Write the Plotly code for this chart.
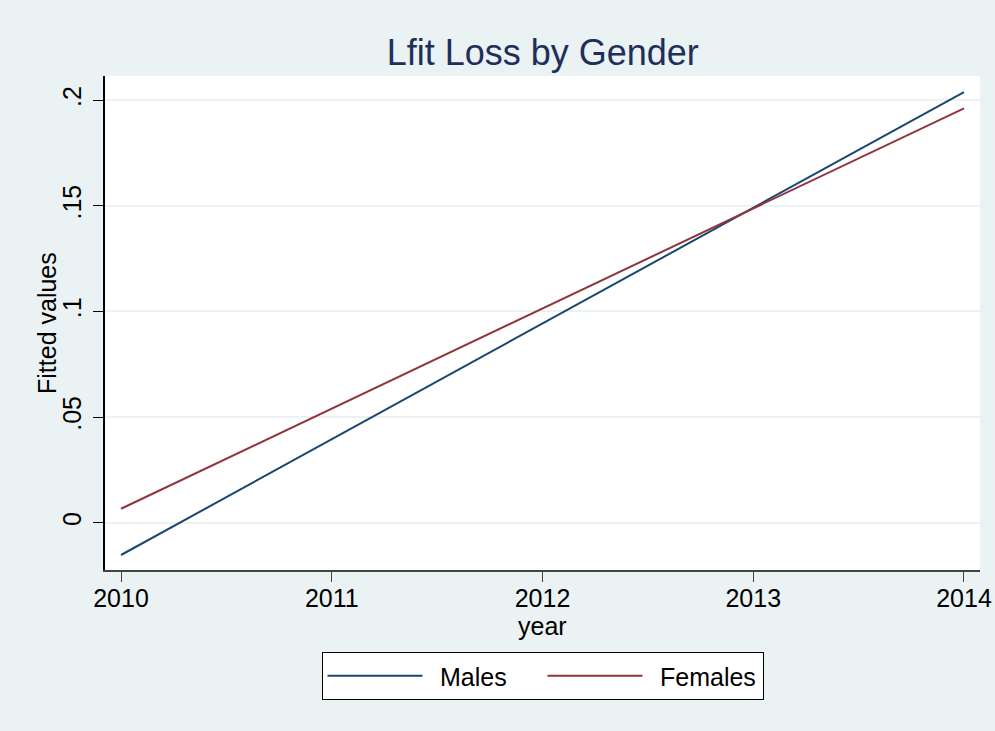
import plotly.graph_objects as go

# Fitted values
years = [2010, 2011, 2012, 2013, 2014]
males = [-0.0153, 0.0395, 0.0943, 0.1491, 0.2039]
females = [0.0066, 0.0540, 0.1014, 0.1488, 0.1962]

y_ticks = [0, 0.05, 0.1, 0.15, 0.2]
y_tick_labels = ["0", ".05", ".1", ".15", ".2"]

bg = "#EAF2F3"
font = "Liberation Sans, Arial, sans-serif"

fig = go.Figure()
fig.add_trace(go.Scatter(x=years, y=males, mode="lines", name="\u2002Males",
                         line=dict(color="#1a476f", width=2)))
fig.add_trace(go.Scatter(x=years, y=females, mode="lines", name="\u2002Females",
                         line=dict(color="#90353b", width=2)))

fig.update_layout(
    width=995, height=731,
    paper_bgcolor=bg, plot_bgcolor="white",
    font=dict(family=font, color="black", size=25),
    margin=dict(l=105, r=15, t=76, b=161, autoexpand=False),
    title=dict(text="Lfit Loss by Gender", x=0.5455, xanchor="center",
               y=0.929, yanchor="middle",
               font=dict(size=36, color="#1e2f5a", family=font)),
    showlegend=True,
    legend=dict(orientation="h", x=0.5, xanchor="center", y=-0.166, yanchor="top",
                bgcolor="white", bordercolor="black", borderwidth=1,
                font=dict(size=25), entrywidth=110, itemwidth=95),
    annotations=[
        dict(text="Fitted values", textangle=-90, xref="paper", yref="paper",
             x=-0.0663, y=0.5, xanchor="center", yanchor="middle", showarrow=False,
             font=dict(size=25)),
        dict(text="year", xref="paper", yref="paper",
             x=0.5, y=-0.113, xanchor="center", yanchor="middle", showarrow=False,
             font=dict(size=25)),
    ],
)

fig.update_xaxes(
    range=[2009.924, 2014.076], tickvals=years, ticktext=[str(y) for y in years],
    showgrid=False, zeroline=False, showline=True, linecolor="#444444", linewidth=1.5,
    ticks="outside", ticklen=10, tickcolor="#444444", tickfont=dict(size=25),
    automargin=False, ticklabelstandoff=-5,
)
fig.update_yaxes(
    range=[-0.0224, 0.2115], tickvals=y_ticks, ticktext=y_tick_labels, tickangle=-90,
    showgrid=True, gridcolor=bg, gridwidth=2, zeroline=False,
    showline=True, linecolor="black", linewidth=1.5,
    ticks="outside", ticklen=10, tickcolor="black", tickfont=dict(size=25),
    automargin=False, ticklabelstandoff=2,
)

# drop the page's default body margin so the figure fills the window
fig.write_html("out.html", config={"displayModeBar": False},
               post_script="document.body.style.margin='0';")
